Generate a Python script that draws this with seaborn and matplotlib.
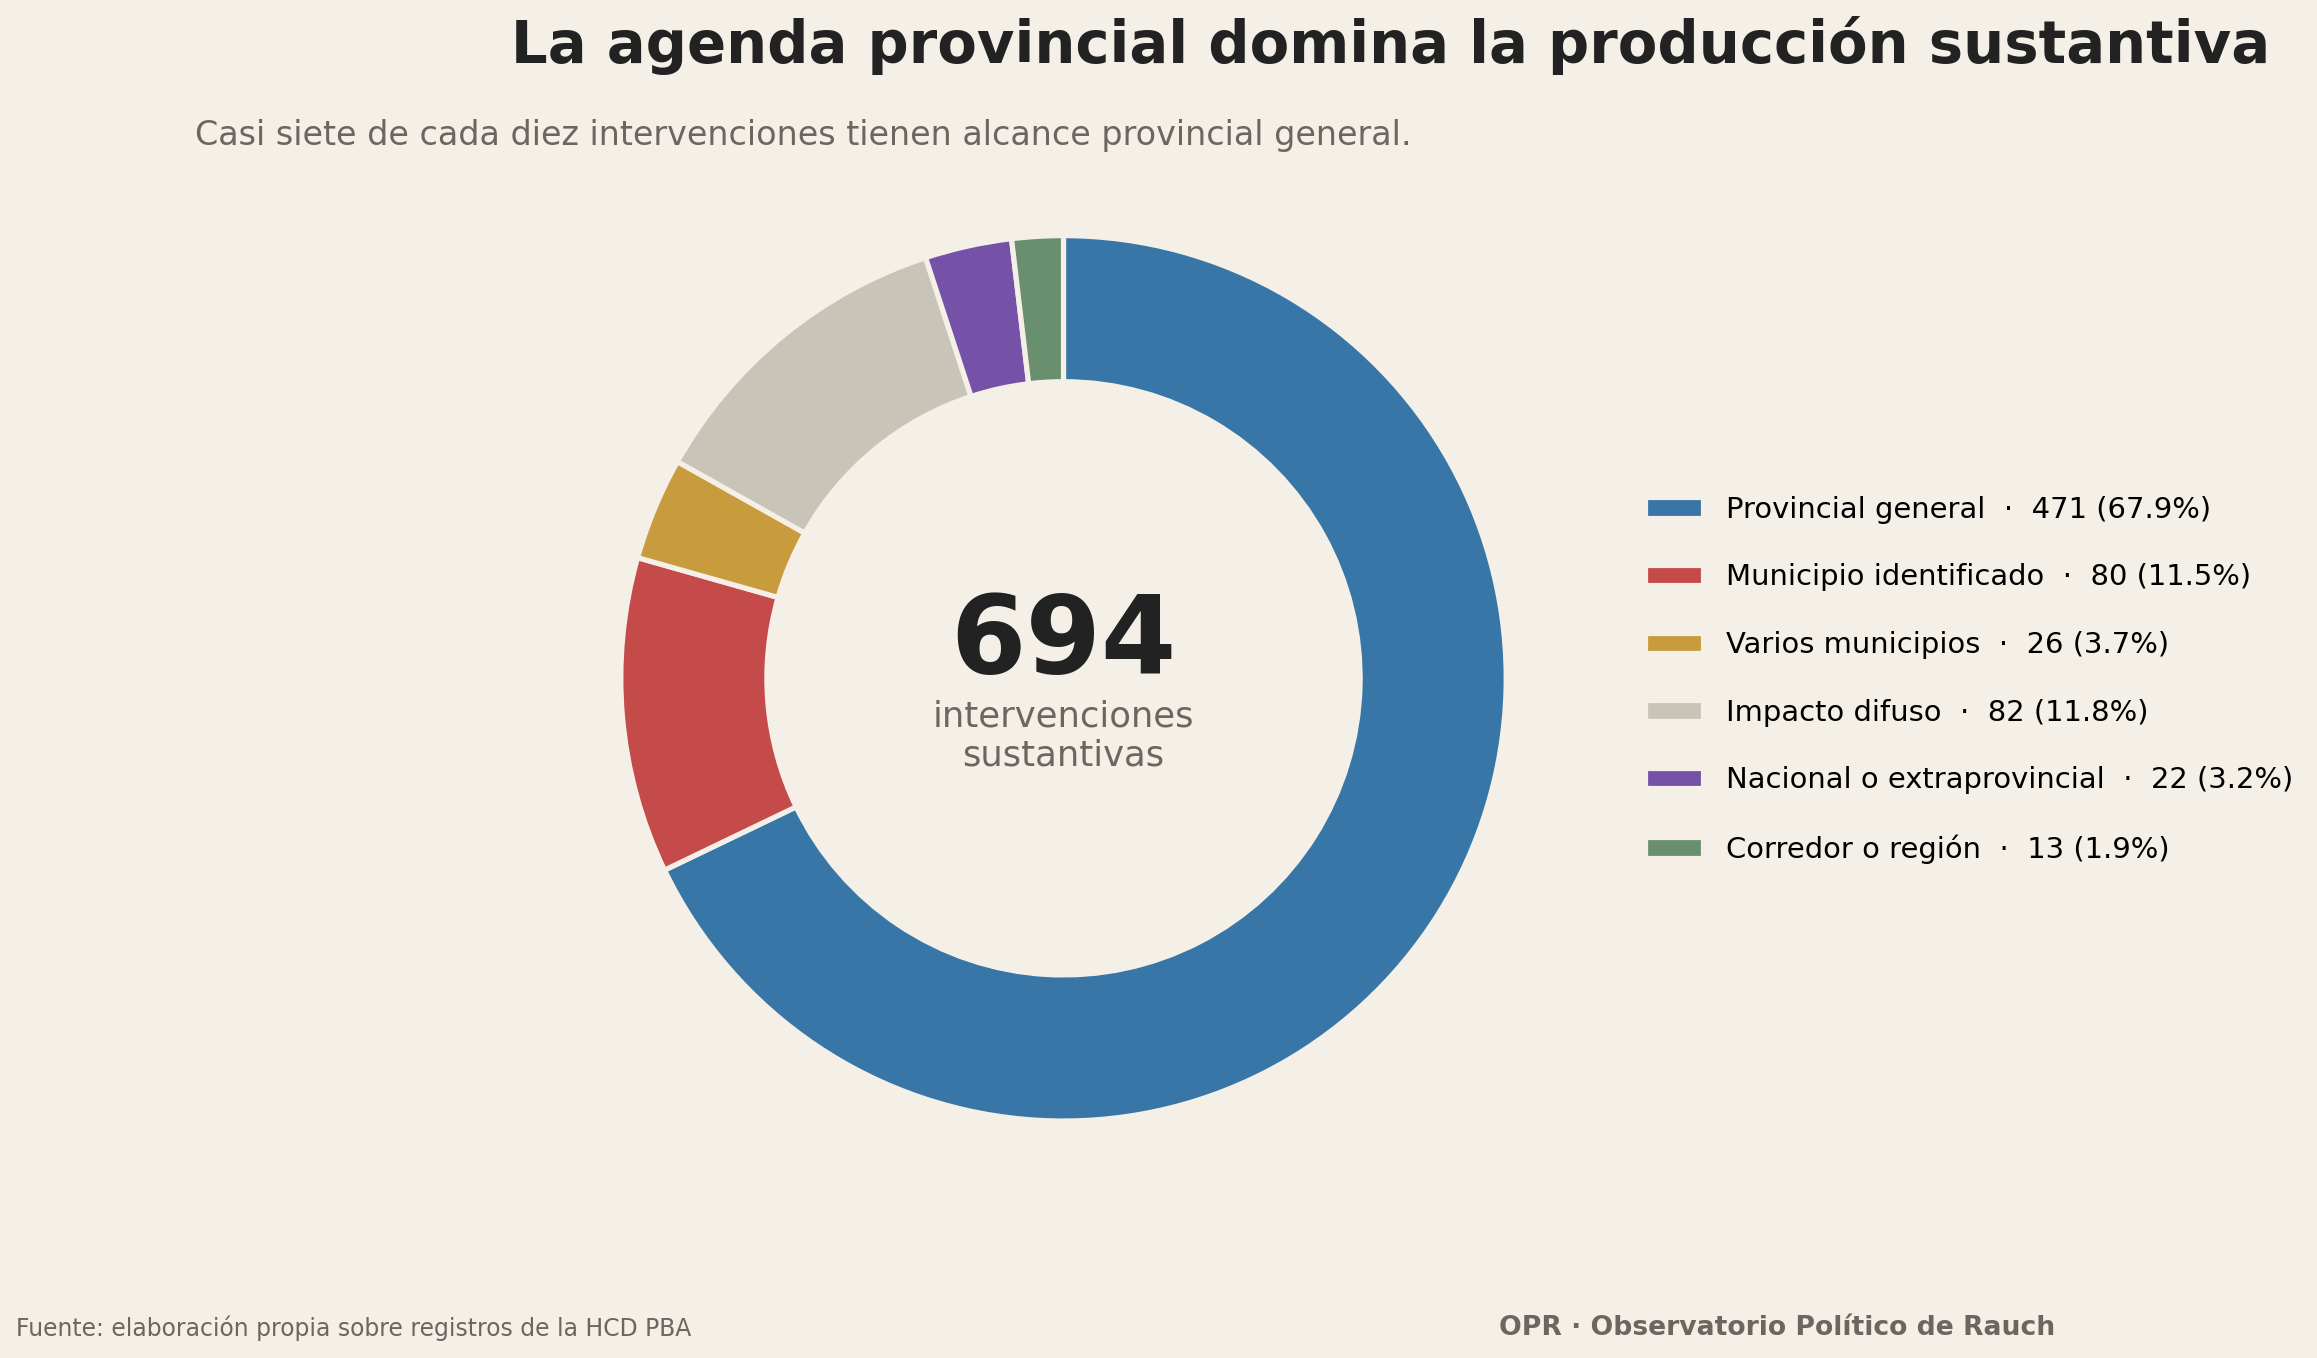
import numpy as np
import matplotlib
matplotlib.use("Agg")
import matplotlib.pyplot as plt
import seaborn as sns

# datos
categorias = ["Provincial general", "Municipio identificado", "Varios municipios",
              "Impacto difuso", "Nacional o extraprovincial", "Corredor o región"]
valores = [471, 80, 26, 82, 22, 13]
colores = ["#3776a6", "#c44b4a", "#c89b3c", "#c8c4b8", "#7552a8", "#6a8f6f"]

titulo = "La agenda provincial domina la producción sustantiva"
subtitulo = "Casi siete de cada diez intervenciones tienen alcance provincial general."
fuente = "Fuente: elaboración propia sobre registros de la HCD PBA"
firma = "OPR · Observatorio Político de Rauch"

BG = "#f4f0e8"
sns.set_theme(style="white", rc={"figure.facecolor": BG, "axes.facecolor": BG})
plt.rcParams["font.family"] = ["DejaVu Sans"]

total = sum(valores)
pal = sns.color_palette(colores)

fig = plt.figure(figsize=(2317 / 150, 1358 / 150), dpi=150)
ax = fig.add_axes([0.2200, 0.0930, 0.4780, 0.8150])

wedges, _ = ax.pie(valores, colors=pal, startangle=90, counterclock=False,
                   wedgeprops=dict(width=0.33, edgecolor=BG, linewidth=2.5))
ax.set_xlim(-1.25, 1.25)
ax.set_ylim(-1.25, 1.25)
ax.set_aspect("equal")
ax.axis("off")

ax.text(0, 0.08, f"{total}", ha="center", va="center", fontsize=52,
        fontweight="bold", color="#222222")
ax.text(0, -0.13, "intervenciones\nsustantivas", ha="center", va="center",
        fontsize=17, color="#6b6660", linespacing=1.2)

etiquetas = [f"{c}  ·  {v} ({v / total * 100:.1f}%)" for c, v in zip(categorias, valores)]
fig.legend(wedges, etiquetas, loc="center left", bbox_to_anchor=(0.705, 0.4995),
           frameon=False, fontsize=13.9, labelspacing=1.37, handlelength=2.0,
           handletextpad=0.8, borderaxespad=0, labelcolor="black")

fig.text(0.6, 0.988, titulo, ha="center", va="top", fontsize=27.7,
         fontweight="bold", color="#222222")
fig.text(0.084, 0.9, subtitulo, ha="left", va="center", fontsize=16, color="#6b6660")
fig.text(0.007, 0.022, fuente, ha="left", va="center", fontsize=11.3, color="#6b6660")
fig.text(0.887, 0.022, firma, ha="right", va="center", fontsize=12.8,
         fontweight="bold", color="#6b6660")

fig.savefig("out.png", dpi=150, facecolor=BG)
